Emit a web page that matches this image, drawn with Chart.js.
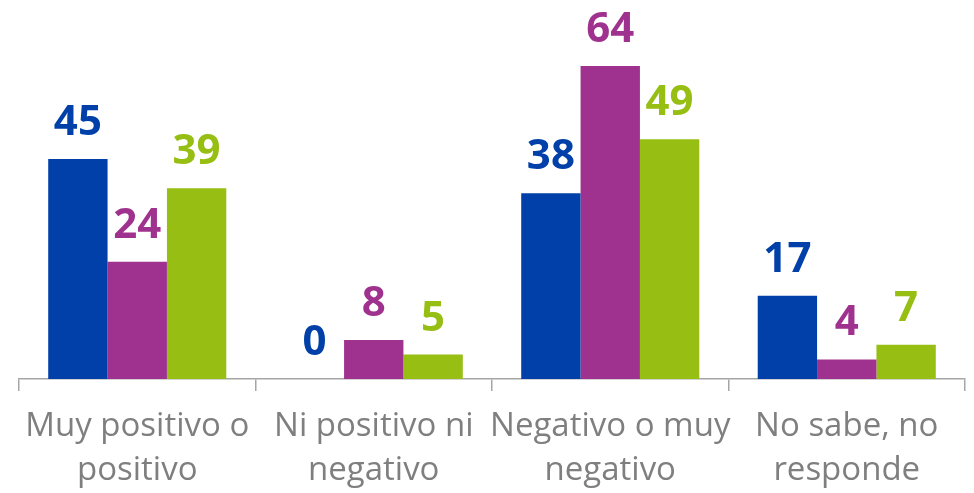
<!DOCTYPE html>
<html>
<head>
<meta charset="utf-8">
<script src="https://cdn.jsdelivr.net/npm/chart.js@4.4.1/dist/chart.umd.min.js"></script>
<style>
  html, body { margin: 0; padding: 0; background: #fff; }
  #wrap { width: 974px; height: 493px; }
</style>
</head>
<body>
<div id="wrap"><canvas id="chart"></canvas></div>
<script>
const categories = [
    ['Muy positivo o', 'positivo'],
    ['Ni positivo ni', 'negativo'],
    ['Negativo o muy', 'negativo'],
    ['No sabe, no', 'responde']
];
const serieA = [45, 0, 38, 17];
const serieB = [24, 8, 64, 4];
const serieC = [39, 5, 49, 7];

const colors = ['#0040a8', '#a0328f', '#97be12'];

// etiquetas encima de cada barra
const valueLabels = {
    id: 'valueLabels',
    afterDatasetsDraw(chart) {
        const ctx = chart.ctx;
        ctx.save();
        ctx.font = 'bold 42px "Open Sans", sans-serif';
        ctx.textAlign = 'center';
        ctx.textBaseline = 'alphabetic';
        chart.data.datasets.forEach((ds, i) => {
            chart.getDatasetMeta(i).data.forEach((bar, j) => {
                ctx.fillStyle = ds.backgroundColor;
                ctx.fillText(ds.data[j], bar.x, bar.y - 24);
            });
        });
        ctx.restore();
    }
};

new Chart(document.getElementById('chart').getContext('2d'), {
    type: 'bar',
    data: {
        labels: categories,
        datasets: [
            { data: serieA, backgroundColor: colors[0] },
            { data: serieB, backgroundColor: colors[1] },
            { data: serieC, backgroundColor: colors[2] }
        ]
    },
    options: {
        responsive: true,
        maintainAspectRatio: false,
        animation: false,
        layout: { padding: { left: 19, right: 9, top: 0, bottom: 0 } },
        datasets: {
            bar: { categoryPercentage: 0.753, barPercentage: 1.0 }
        },
        scales: {
            y: { display: false, min: 0, max: 77.5 },
            x: {
                grid: {
                    display: true,
                    drawOnChartArea: false,
                    drawTicks: true,
                    tickLength: 12,
                    offset: true,
                    color: '#a6a6a6',
                    lineWidth: 1.5
                },
                border: { display: true, color: '#a6a6a6', width: 1.5 },
                ticks: {
                    color: '#7f7f7f',
                    font: { family: '"Open Sans", sans-serif', size: 33, lineHeight: 1.32 },
                    padding: 14,
                    maxRotation: 0,
                    autoSkip: false
                },
                afterFit(scale) { scale.height = 114; }
            }
        },
        plugins: {
            legend: { display: false },
            tooltip: { enabled: false }
        }
    },
    plugins: [valueLabels]
});
</script>
</body>
</html>
